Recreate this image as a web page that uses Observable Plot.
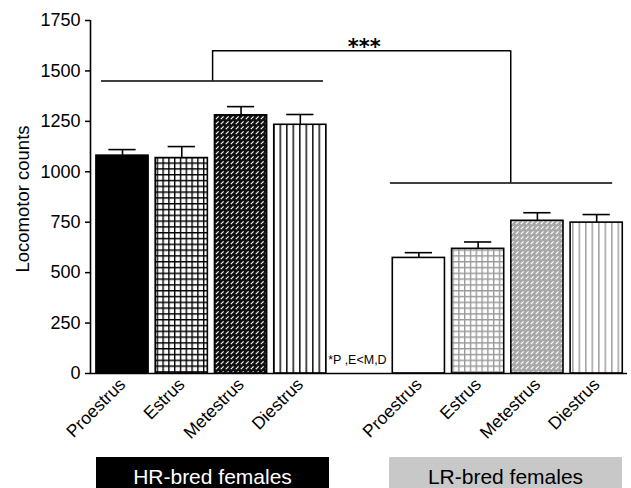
<!DOCTYPE html>
<html><head><meta charset="utf-8">
<script src="https://cdn.jsdelivr.net/npm/d3@7"></script>
<script src="https://cdn.jsdelivr.net/npm/@observablehq/plot@0.6"></script>
<style>
body{margin:0;background:#fff;font-family:"Liberation Sans",Arial,Helvetica,sans-serif;}
#wrap{position:relative;width:631px;height:488px;overflow:hidden;background:#fff;}
#wrap svg{position:absolute;left:0;top:0;overflow:visible;}
.grp{position:absolute;top:457px;height:40px;width:233px;text-align:center;font-size:21px;line-height:21px;padding-top:8.6px;box-sizing:border-box;}
</style></head><body><div id="wrap"></div>
<script>
// ---- data ----
const phases = ["Proestrus", "Estrus", "Metestrus", "Diestrus"];
const hrMeans = [1080, 1068, 1280, 1233];
const hrSem = [30, 57, 43, 51];
const lrMeans = [573, 618, 757, 748];
const lrSem = [26, 34, 40, 40];
const yTicks = [0, 250, 500, 750, 1000, 1250, 1500, 1750];
const groupLabels = ["HR-bred females", "LR-bred females"];
const yLabel = "Locomotor counts";
const bracketLevels = [1450, 1600, 945]; // HR line, top line, LR line
const starsLabel = "***";
const noteLabel = "*P ,E<M,D";

// ---- layout (slot units) ----
const lrOffset = 5;
const halfBar = 0.44, halfCap = 0.23;
const xMin = -0.54, xMax = 8.52;
const patIds = ["hr0","hr1","hr2","hr3","lr0","lr1","lr2","lr3"];

const rows = [
  ...hrMeans.map((m, i) => ({slot: i, mean: m, sem: hrSem[i], fill: `url(#${patIds[i]})`})),
  ...lrMeans.map((m, i) => ({slot: i + lrOffset, mean: m, sem: lrSem[i], fill: `url(#${patIds[i + 4]})`}))
];
const tickSlots = rows.map(d => d.slot);

const plot = Plot.plot({
  width: 631, height: 456,
  marginLeft: 90, marginRight: 4, marginTop: 20, marginBottom: 83,
  x: {domain: [xMin, xMax]},
  y: {domain: [0, 1750]},
  color: {type: "identity"},
  style: {fontFamily: "'Liberation Sans', Arial, Helvetica, sans-serif", fontSize: "17px", color: "black", background: "white", overflow: "visible"},
  marks: [
    Plot.rectY(rows, {x1: d => d.slot - halfBar, x2: d => d.slot + halfBar, y1: 0, y2: "mean", fill: "fill", stroke: "black", strokeWidth: 1.6}),
    Plot.ruleX(rows, {x: "slot", y1: "mean", y2: d => d.mean + d.sem, strokeWidth: 1.6}),
    Plot.ruleY(rows, {y: d => d.mean + d.sem, x1: d => d.slot - halfCap, x2: d => d.slot + halfCap, strokeWidth: 1.6}),
    Plot.ruleY([0], {strokeWidth: 1.6}),
    Plot.ruleX([xMin], {y1: 0, y2: 1750, strokeWidth: 1.6}),
    // significance brackets
    Plot.ruleY([bracketLevels[0]], {x1: -0.354, x2: 3.39, strokeWidth: 1.5}),
    Plot.ruleY([bracketLevels[1]], {x1: 1.52, x2: 6.55, strokeWidth: 1.5}),
    Plot.ruleY([bracketLevels[2]], {x1: 4.52, x2: 8.27, strokeWidth: 1.5}),
    Plot.ruleX([1.52], {y1: bracketLevels[0], y2: bracketLevels[1], strokeWidth: 1.5}),
    Plot.ruleX([6.55], {y1: bracketLevels[2], y2: bracketLevels[1], strokeWidth: 1.5}),
    Plot.text([starsLabel], {x: 4.08, y: bracketLevels[1], text: d => d, lineAnchor: "bottom", dy: 3, fontSize: 21, fontWeight: "bold", fontFamily: "DejaVu Sans"}),
    Plot.text([noteLabel], {x: 3.47, y: 0, text: d => d, textAnchor: "start", lineAnchor: "bottom", dy: -9.4, fontSize: 12.5}),
    Plot.text([yLabel], {frameAnchor: "left", textAnchor: "middle", text: d => d, rotate: -90, dx: -67, dy: 2, fontSize: 18.5}),
    Plot.axisY({ticks: yTicks, tickFormat: d => String(d), tickSize: 5, tickPadding: 5, fontSize: 18, label: null, strokeWidth: 1.5}),
    Plot.axisX({ticks: tickSlots, tickFormat: d => phases[d < lrOffset ? d : d - lrOffset], tickSize: 0, tickPadding: 8, tickRotate: -45, fontSize: 17.5, label: null})
  ]
});

const defs = `
<pattern id="hr0" patternUnits="userSpaceOnUse" width="6" height="6"><rect width="6" height="6" fill="black"/></pattern>
<pattern id="hr1" patternUnits="userSpaceOnUse" width="5.8" height="5.8"><rect width="5.8" height="5.8" fill="white"/><path d="M0 0.7H5.8M0.7 0V5.8" stroke="black" stroke-width="1.4"/></pattern>
<pattern id="hr2" patternUnits="userSpaceOnUse" width="5" height="5"><rect width="5" height="5" fill="#111"/><path d="M0.8 4.2L3.6 1.4" stroke="white" stroke-width="1.1"/></pattern>
<pattern id="hr3" patternUnits="userSpaceOnUse" width="6.5" height="6"><rect width="6.5" height="6" fill="white"/><path d="M0.8 0V6" stroke="black" stroke-width="1.4"/></pattern>
<pattern id="lr0" patternUnits="userSpaceOnUse" width="6" height="6"><rect width="6" height="6" fill="white"/></pattern>
<pattern id="lr1" patternUnits="userSpaceOnUse" width="5.8" height="5.8"><rect width="5.8" height="5.8" fill="white"/><path d="M0 0.7H5.8M0.7 0V5.8" stroke="#9a9a9a" stroke-width="1.4"/></pattern>
<pattern id="lr2" patternUnits="userSpaceOnUse" width="5" height="5"><rect width="5" height="5" fill="#a8a8a8"/><path d="M0.8 4.2L3.6 1.4" stroke="white" stroke-width="1.2"/></pattern>
<pattern id="lr3" patternUnits="userSpaceOnUse" width="6.5" height="6"><rect width="6.5" height="6" fill="white"/><path d="M0.8 0V6" stroke="#a0a0a0" stroke-width="1.5"/></pattern>`;
d3.select(plot).insert("defs", ":first-child").html(defs);

const wrap = document.getElementById("wrap");
wrap.appendChild(plot);
const boxes = [
  {left: 96, bg: "#000", fg: "#fff"},
  {left: 389, bg: "#c8c8c8", fg: "#000"}
];
groupLabels.forEach((t, i) => {
  const div = document.createElement("div");
  div.className = "grp";
  div.style.left = boxes[i].left + "px";
  div.style.background = boxes[i].bg;
  div.style.color = boxes[i].fg;
  div.textContent = t;
  wrap.appendChild(div);
});
</script>
</body></html>
